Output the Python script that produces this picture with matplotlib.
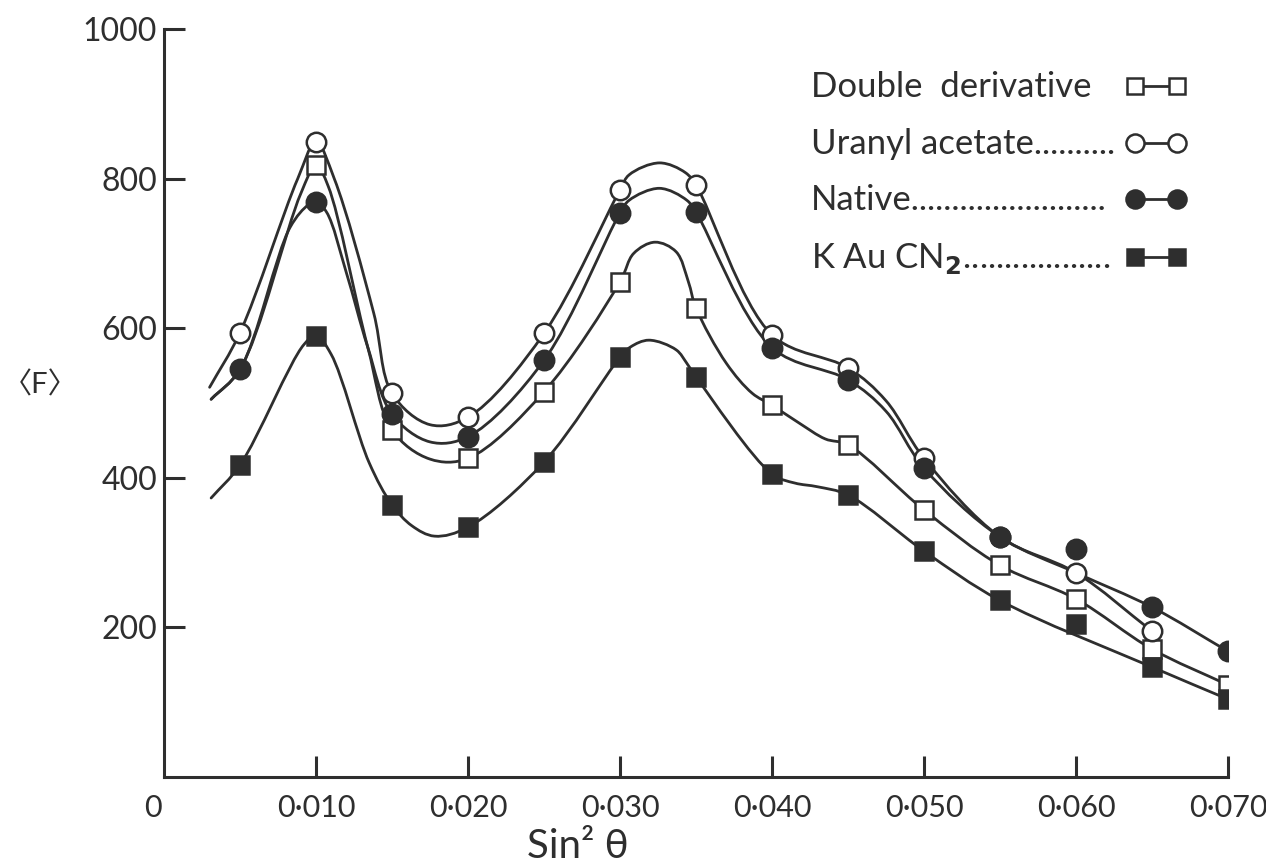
import numpy as np
import matplotlib
matplotlib.use("Agg")
import matplotlib.pyplot as plt
from matplotlib.path import Path
from matplotlib.patches import PathPatch

plt.rcParams['font.family'] = ['Lato', 'DejaVu Sans']
plt.rcParams['mathtext.fontset'] = 'dejavusans'

INK = '#2e2e2e'

# ---- markers (sin^2 theta, <F>) ----
double_x = [0.010, 0.015, 0.020, 0.025, 0.030, 0.035, 0.040, 0.045, 0.050, 0.055, 0.060, 0.065, 0.070]
double_y = [818, 464, 426, 515, 662, 627, 497, 444, 357, 283, 238, 171, 123]

uranyl_x = [0.005, 0.010, 0.015, 0.020, 0.025, 0.030, 0.035, 0.040, 0.045, 0.050, 0.055, 0.060, 0.065]
uranyl_y = [594, 849, 513, 481, 593, 785, 791, 591, 547, 426, 321, 273, 195]

native_x = [0.005, 0.010, 0.015, 0.020, 0.025, 0.030, 0.035, 0.040, 0.045, 0.050, 0.055, 0.060, 0.065, 0.070]
native_y = [545, 769, 485, 455, 557, 754, 755, 573, 531, 413, 321, 305, 227, 168]

kau_x = [0.005, 0.010, 0.015, 0.020, 0.025, 0.030, 0.035, 0.040, 0.045, 0.050, 0.055, 0.060, 0.065, 0.070]
kau_y = [417, 590, 364, 334, 421, 561, 535, 405, 377, 302, 236, 204, 147, 104]

# ---- hand drawn curves ----
double_cx = [0.0031, 0.005, 0.0090, 0.010, 0.0108, 0.0134, 0.015, 0.0175, 0.020, 0.025, 0.030,
             0.0309, 0.0323, 0.0337, 0.0345, 0.035, 0.0370, 0.0387, 0.040, 0.0418, 0.0435, 0.045,
             0.050, 0.055, 0.060, 0.065, 0.070]
double_cy = [505, 545, 780, 818, 790, 575, 464, 425, 426, 515, 662,
             700, 715, 702, 662, 627, 553, 513, 497, 473, 452, 444,
             357, 283, 238, 171, 123]

uranyl_cx = [0.0030, 0.005, 0.0088, 0.010, 0.0112, 0.0138, 0.015, 0.0175, 0.020, 0.025, 0.030,
             0.0306, 0.0326, 0.0343, 0.035, 0.040, 0.045, 0.0475, 0.050, 0.055, 0.060, 0.065]
uranyl_cy = [521, 594, 800, 849, 800, 620, 513, 471, 481, 593, 785,
             805, 821, 808, 791, 591, 547, 503, 426, 321, 273, 195]

native_cx = [0.0031, 0.005, 0.0083, 0.0095, 0.010, 0.0107, 0.0120, 0.0134, 0.015, 0.0175, 0.020,
             0.025, 0.030, 0.0306, 0.0326, 0.0344, 0.035, 0.040, 0.045, 0.0475, 0.050,
             0.055, 0.060, 0.065, 0.070]
native_cy = [505, 545, 735, 765, 769, 755, 674, 575, 485, 448, 455,
             557, 754, 771, 787, 771, 755, 574, 531, 489, 413,
             321, 273, 227, 168]

kau_cx = [0.0031, 0.005, 0.0092, 0.010, 0.0110, 0.0135, 0.015, 0.0163, 0.0178, 0.020, 0.025,
          0.030, 0.0307, 0.0319, 0.0337, 0.0344, 0.035, 0.040, 0.0415, 0.043, 0.045, 0.050,
          0.055, 0.065, 0.070]
kau_cy = [373, 417, 578, 590, 565, 420, 364, 336, 322, 334, 421,
          561, 575, 584, 571, 553, 535, 405, 393, 388, 377, 302,
          236, 147, 104]

xticks = [0.010, 0.020, 0.030, 0.040, 0.050, 0.060, 0.070]
xtick_labels = ['0·010', '0·020', '0·030', '0·040', '0·050', '0·060', '0·070']
yticks = [200, 400, 600, 800, 1000]

labels = ['Double  derivative',
          'Uranyl acetate' + '.' * 10,
          'Native' + '.' * 24,
          r'K Au CN$_\mathbf{2}$' + '.' * 18]


def smooth_path(ax, xs, ys):
    """centripetal catmull-rom through the traced points, as bezier path"""
    pts = ax.transData.transform(np.column_stack([xs, ys]))
    n = len(pts)
    d = np.sqrt(np.hypot(*np.diff(pts, axis=0).T))
    t = np.concatenate([[0], np.cumsum(d)])
    m = np.zeros_like(pts)
    m[0] = (pts[1] - pts[0]) / (t[1] - t[0])
    m[-1] = (pts[-1] - pts[-2]) / (t[-1] - t[-2])
    for i in range(1, n - 1):
        m[i] = ((pts[i] - pts[i - 1]) / (t[i] - t[i - 1])
                - (pts[i + 1] - pts[i - 1]) / (t[i + 1] - t[i - 1])
                + (pts[i + 1] - pts[i]) / (t[i + 1] - t[i]))
    verts = [pts[0]]
    codes = [Path.MOVETO]
    for i in range(n - 1):
        dt = t[i + 1] - t[i]
        verts += [pts[i] + m[i] * dt / 3, pts[i + 1] - m[i + 1] * dt / 3, pts[i + 1]]
        codes += [Path.CURVE4] * 3
    verts = ax.transData.inverted().transform(np.array(verts))
    return Path(verts, codes)


W, H = 1266, 868
fig = plt.figure(figsize=(W / 100, H / 100), dpi=100)
ax = fig.add_axes([164 / W, 1 - 777 / H, (1228 - 164) / W, (777 - 29) / H])
ax.set_xlim(0, 0.070)
ax.set_ylim(0, 1000)

for s in ['top', 'right']:
    ax.spines[s].set_visible(False)
for s in ['left', 'bottom']:
    ax.spines[s].set_linewidth(2.2)
    ax.spines[s].set_color(INK)

ax.tick_params(direction='in', length=15, width=2.2, color=INK, labelcolor=INK)
ax.tick_params(axis='x', labelsize=22, pad=12)
ax.tick_params(axis='y', labelsize=23, pad=5)
ax.set_xticks(xticks)
ax.set_xticklabels(xtick_labels)
ax.set_yticks(yticks)
ax.annotate('0', xy=(0, 0), xytext=(-8, -12), textcoords='offset points',
            ha='center', va='top', fontsize=22, color=INK)

series = [
    (double_cx, double_cy, double_x, double_y, 's', 'white'),
    (uranyl_cx, uranyl_cy, uranyl_x, uranyl_y, 'o', 'white'),
    (native_cx, native_cy, native_x, native_y, 'o', INK),
    (kau_cx, kau_cy, kau_x, kau_y, 's', INK),
]

# key block, upper right (pixel layout of the original)
key_text_x = 811
key_mark_x = (1135, 1177)
key_base_y = [97, 154, 210, 268]

for k, (cx, cy, mx, my, mk, fc) in enumerate(series):
    ax.add_patch(PathPatch(smooth_path(ax, cx, cy), fill=False, lw=2.0,
                           ec=INK, capstyle='round', zorder=2))
    ms = 13 if mk == 's' else 14
    ax.plot(mx, my, ls='none', marker=mk, ms=ms, mfc=fc, mec=INK, mew=1.8,
            zorder=3 + k)
    yb = key_base_y[k]
    fig.text(key_text_x / W, 1 - yb / H, labels[k], ha='left', va='baseline',
             fontsize=25, color=INK)
    fig.add_artist(plt.Line2D([key_mark_x[0] / W, key_mark_x[1] / W],
                              [1 - (yb - 11) / H] * 2, transform=fig.transFigure,
                              color=INK, lw=2.0, marker=mk, ms=ms - 1,
                              mfc=fc, mec=INK, mew=1.8))

fig.text(578 / W, 1 - 847 / H, 'Sin² θ', ha='center', va='center',
         fontsize=29, color=INK)
fig.text(40 / W, 1 - 385 / H, '〈F〉', ha='center', va='center',
         fontsize=21, color=INK, family=['Lato', 'Noto Sans CJK SC', 'DejaVu Sans'])

fig.savefig('out.png', dpi=100, facecolor='white')
